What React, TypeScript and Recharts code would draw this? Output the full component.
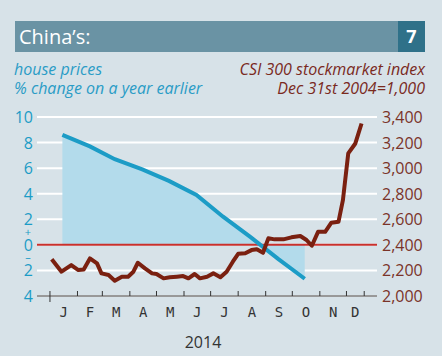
import { ComposedChart, Area, Line, XAxis, YAxis, CartesianGrid, ReferenceLine, Label } from "recharts";

// house prices, % change on a year earlier (mid-month, day of year)
const houseDays = [14, 45, 73, 104, 134, 165, 195, 226, 257, 287];
const houseValues = [8.6, 7.7, 6.7, 5.9, 5.0, 3.9, 2.2, 0.6, -1.1, -2.65];

// CSI 300 index (day of year)
const csiDays = [
  2, 13, 24, 32, 38, 45, 53, 58, 66, 73, 81, 88, 94, 99, 107, 115, 120, 128, 135, 143, 150, 156, 163,
  169, 177, 184, 192, 199, 206, 212, 220, 227, 233, 240, 246, 253, 263, 272, 282, 289, 295, 302, 310,
  317, 325, 330, 336, 344, 351,
];
const csiValues = [
  2287, 2190, 2242, 2203, 2208, 2294, 2255, 2177, 2164, 2120, 2151, 2151, 2190, 2260, 2216, 2177, 2172,
  2138, 2146, 2151, 2156, 2138, 2172, 2138, 2151, 2177, 2146, 2190, 2268, 2330, 2334, 2359, 2365, 2338,
  2451, 2443, 2443, 2459, 2469, 2438, 2393, 2502, 2502, 2573, 2580, 2750, 3115, 3193, 3349,
];

const monthStarts = [0, 31, 59, 90, 120, 151, 181, 212, 243, 273, 304, 334, 354];
const monthLabels = ["J", "F", "M", "A", "M", "J", "J", "A", "S", "O", "N", "D"];
const monthMids = [15.5, 45, 74.5, 105, 135.5, 166, 196.5, 227.5, 258, 288.5, 319, 344];

const leftTicks = [-4, -2, 0, 2, 4, 6, 8, 10];
const rightTicks = [2000, 2200, 2400, 2600, 2800, 3000, 3200, 3400];

const BLUE = "#1c9cc6";
const BROWN = "#7a2010";
const FONT = "'Open Sans', 'Noto Sans', sans-serif";

const data = [
  ...houseDays.map((d, i) => ({ day: d, house: houseValues[i] })),
  ...csiDays.map((d, i) => ({ day: d, csi: csiValues[i] })),
].sort((a, b) => a.day - b.day);

const MonthTick = (props: any) => {
  const { x, y, payload } = props;
  const v = payload.value;
  const start = monthStarts.indexOf(v);
  if (start >= 0) {
    return <line x1={x} x2={x} y1={y - 5} y2={start === 0 ? y + 6 : y} stroke="#333" strokeWidth={1} />;
  }
  const i = monthMids.indexOf(v);
  return (
    <text x={x} y={y + 21} textAnchor="middle" fill="#333" fontSize={14} fontFamily="'DejaVu Sans Mono', monospace">
      {monthLabels[i]}
    </text>
  );
};

const LeftTick = (props: any) => {
  const { x, y, payload } = props;
  const v = payload.value;
  return (
    <g fill={BLUE} fontSize={16} fontFamily={FONT}>
      <text x={x} y={y} dy={6} textAnchor="end">
        {Math.abs(v)}
      </text>
      {v === 0 && (
        <>
          <text x={x - 5} y={y - 12.5} dy={4} textAnchor="middle" fontSize={11}>+</text>
          <text x={x - 5} y={y + 12.5} dy={4} textAnchor="middle" fontSize={11}>–</text>
        </>
      )}
    </g>
  );
};

const RightTick = (props: any) => {
  const { x, y, payload } = props;
  return (
    <text x={x} y={y} dy={6} textAnchor="start" fill="#7a3328" fontSize={16} fontFamily={FONT}>
      {payload.value.toLocaleString("en-US")}
    </text>
  );
};

export default function App() {
  return (
    <div style={{ position: "absolute", left: 0, top: 0, width: 442, height: 356, background: "#d7e2e8", overflow: "hidden", fontFamily: FONT }}>
      <div style={{ position: "absolute", left: 15, top: 21, width: 383, height: 31, background: "#6a93a4" }} />
      <div style={{ position: "absolute", left: 398, top: 21, width: 27, height: 31, background: "#2f7189" }} />
      <div style={{ position: "absolute", left: 19, top: 21, height: 31, lineHeight: "31px", color: "#fff", fontSize: 20 }}>
        China’s:
      </div>
      <div style={{ position: "absolute", left: 398, width: 27, top: 21, height: 31, lineHeight: "31px", color: "#fff", fontSize: 18, fontWeight: 700, textAlign: "center" }}>
        7
      </div>
      <div style={{ position: "absolute", left: 14, top: 60, color: "#2a9cc6", fontSize: 16, fontStyle: "italic", lineHeight: "19px" }}>
        house prices
        <br />% change on a year earlier
      </div>
      <div style={{ position: "absolute", right: 17, top: 60, color: "#7a2a1e", fontSize: 16, fontStyle: "italic", lineHeight: "19px", textAlign: "right" }}>
        CSI 300 stockmarket index
        <br />
        Dec 31st 2004=1,000
      </div>
      <div style={{ position: "absolute", left: 0, top: 0 }}>
        <ComposedChart width={442} height={356} data={data} margin={{ top: 117, right: 0, bottom: 0, left: 0 }}>
          <CartesianGrid vertical={false} stroke="#ffffff" strokeWidth={2} yAxisId="left" />
          <XAxis
            dataKey="day"
            type="number"
            domain={[-14.6, 368.4]}
            ticks={[...monthStarts, ...monthMids].sort((a, b) => a - b)}
            interval={0}
            tick={<MonthTick />}
            tickLine={false}
            tickSize={0}
            tickMargin={0}
            axisLine={{ stroke: "#333", strokeWidth: 1 }}
            height={60}
            allowDataOverflow
          >
            <Label value="2014" position="insideBottom" offset={8} dx={-4} fill="#333" fontSize={16} fontFamily={FONT} />
          </XAxis>
          <YAxis
            yAxisId="left"
            orientation="left"
            domain={[-4, 10]}
            ticks={leftTicks}
            interval={0}
            width={37}
            tickSize={0}
            tickMargin={4}
            tickLine={false}
            axisLine={false}
            tick={<LeftTick />}
          />
          <YAxis
            yAxisId="right"
            orientation="right"
            domain={[2000, 3400]}
            ticks={rightTicks}
            interval={0}
            width={65}
            tickSize={0}
            tickMargin={5}
            tickLine={false}
            axisLine={false}
            tick={<RightTick />}
          />
          <Area
            yAxisId="left"
            dataKey="house"
            type="linear"
            baseValue={0}
            stroke="none"
            fill="#b3dbeb"
            fillOpacity={1}
            connectNulls
            isAnimationActive={false}
          />
          <ReferenceLine yAxisId="left" y={0} stroke="#c9302c" strokeWidth={2} />
          <Line
            yAxisId="left"
            dataKey="house"
            type="linear"
            stroke={BLUE}
            strokeWidth={4}
            dot={false}
            connectNulls
            isAnimationActive={false}
          />
          <Line
            yAxisId="right"
            dataKey="csi"
            type="linear"
            stroke={BROWN}
            strokeWidth={4}
            strokeLinejoin="round"
            dot={false}
            connectNulls
            isAnimationActive={false}
          />
        </ComposedChart>
      </div>
    </div>
  );
}
